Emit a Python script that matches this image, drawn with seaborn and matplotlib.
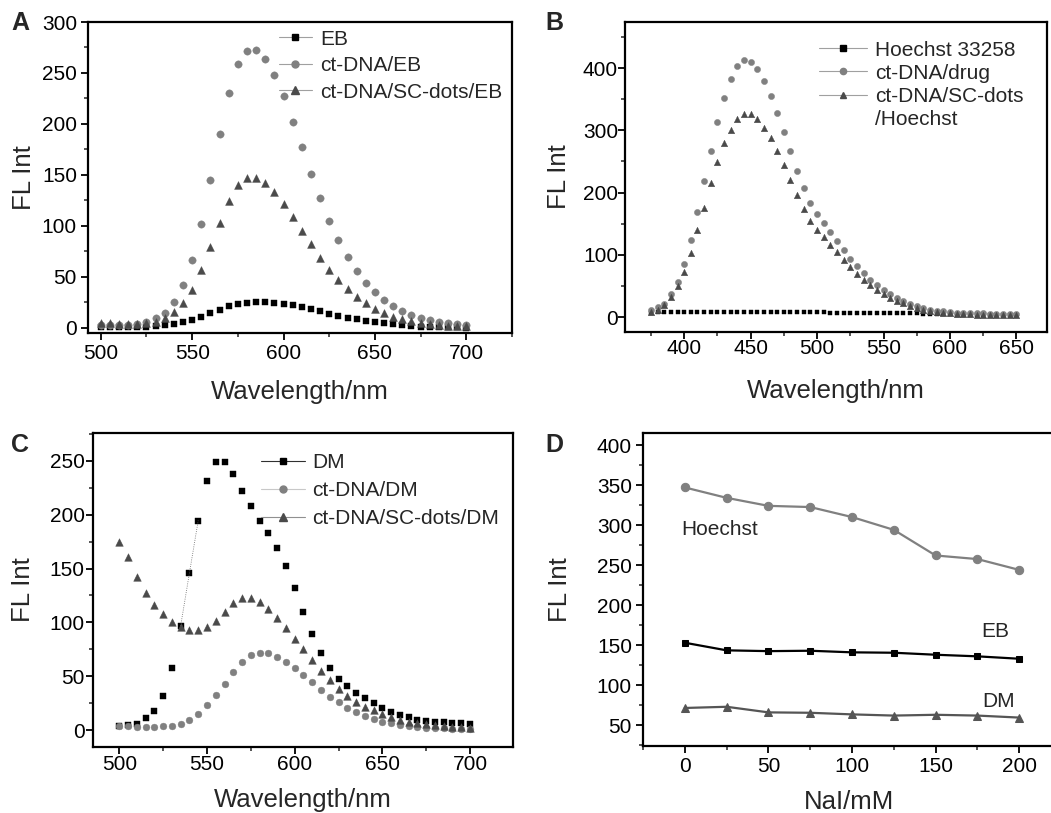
import numpy as np
import pandas as pd
import matplotlib
matplotlib.use('Agg')
import matplotlib.pyplot as plt
from matplotlib.lines import Line2D
from matplotlib.ticker import MultipleLocator
import seaborn as sns

# === DATA ===

# panel A: EB emission spectra
wl_a = np.arange(500, 705, 5)
eb_free = [1, 1, 0.5, 0.5, 0.5, 1, 1.5, 2.5, 4, 5.5,
           8, 11, 14.5, 18, 21, 23, 24, 25, 25, 24,
           23.5, 22, 20.5, 18.5, 16.5, 14, 12, 10, 8.5, 7,
           6, 4.5, 3.5, 2.5, 1.5, 1, 1, 0.5, 0.5, 0.5, 0.3]
eb_dna = [3, 3, 3, 3, 4, 6, 9.5, 15, 25, 42,
          67, 102, 145, 190, 230, 259, 272, 273, 264, 248,
          227, 202, 177, 151, 127, 105, 86, 70, 56, 44,
          35, 27, 21, 16.5, 13, 10, 7.5, 6, 5, 4, 3]
eb_dots = [5, 4.5, 4, 4, 4, 4.5, 6, 10, 16, 24.5,
           37.5, 57, 79, 103, 124, 140, 147, 147, 142, 133.5,
           122, 109, 95, 82, 69, 57, 46.5, 38, 30.5, 24.5,
           18.5, 14.5, 11, 8.5, 6.5, 5, 4, 3, 2, 2, 1.5]

# panel B: Hoechst emission spectra
wl_b = np.arange(375, 655, 5)
hoe_free = [6, 7.5, 7.5, 8, 8, 8, 8, 7.5, 7.5, 7.5,
            7.5, 7.5, 7.5, 7.5, 7.5, 7.5, 7.5, 8, 8, 8,
            8, 8, 8, 7.5, 7.5, 7.5, 7.5, 7, 7, 7,
            7, 7, 7, 7, 7, 7, 6.5, 6.5, 6, 6,
            6, 5.5, 5, 5, 4.5, 4.5, 4, 4, 4, 4,
            3.5, 3.5, 3.5, 3, 3, 3]
hoe_dna = [12, 15.5, 21, 37, 56, 86, 123, 169, 218, 267,
           313, 352, 383, 404, 413, 410, 399, 380, 355, 328,
           298, 266, 234.5, 207, 184, 165.5, 151, 136, 121.5, 107.5,
           93.5, 81.5, 70, 60, 51.5, 43.5, 36.5, 30.5, 25, 21,
           17, 14.5, 12, 10, 9, 8, 7, 7, 6.5, 6,
           6, 5.5, 5.5, 5, 5, 5]
hoe_dots = [8, 12, 20, 31.5, 49.5, 73, 103, 140, 176, 215,
            249, 279, 301, 318, 326, 326, 318, 304, 287, 267,
            244.5, 220, 195.5, 173, 155, 140, 128, 116, 104, 92,
            80, 69.5, 60, 52, 44, 37, 31, 26, 22.5, 18,
            15, 12, 10, 8.5, 7, 6, 5.5, 5, 4.5, 4,
            4, 3.5, 3.5, 3, 3, 3]

# panel C: DM emission spectra
wl_c = np.arange(500, 705, 5)
dm_free = [4, 5, 6, 11, 18, 32, 58, 97, 146, 194.5,
           231, 249, 249, 238, 222, 208, 194.5, 183, 169.5, 152,
           132, 110, 89.5, 72, 58, 48, 41, 35, 30, 25,
           21, 17, 14, 12, 10, 9, 8, 8, 7, 6.5, 6]
dm_dna = [4, 4, 3, 3, 3, 4, 4, 6, 10, 15.5,
          23, 32.5, 43, 54, 63, 70, 72, 71.5, 68, 63,
          58, 51, 44.5, 37, 31, 26, 21, 17, 13.5, 10.5,
          8, 6.5, 5, 4, 3, 2.5, 2, 2, 1.5, 1, 1]
dm_dots = [175, 161, 142.5, 127.5, 116, 108, 100.5, 96, 93, 93,
           96, 101.5, 110, 118, 123, 123, 119, 112.5, 104, 95,
           85, 75, 65, 55, 46.5, 38.5, 32, 26.5, 22, 18.5,
           15, 12, 10, 8, 7, 6, 5, 4, 3, 3, 2]

# panel D: NaI quenching
nai = [0, 25, 50, 75, 100, 125, 150, 175, 200]
q_hoechst = [347, 334, 324, 322.5, 310, 294, 262, 257.5, 244]
q_eb = [153, 143.5, 142.5, 143, 141, 140.5, 138, 136, 133]
q_dm = [71.5, 73, 66, 65.5, 63.5, 62, 63, 62, 59.5]

BLACK = '#000000'
GRAY = '#808080'
DARK = '#4a4a4a'
LEG_LINE = '#a0a0a0'

# === STYLE ===
sns.set_style('ticks')
plt.rcParams['font.family'] = ['Liberation Sans', 'DejaVu Sans']
plt.rcParams['axes.linewidth'] = 1.6
plt.rcParams['legend.numpoints'] = 1

W, H = 1051, 813
fig = plt.figure(figsize=(W / 100, H / 100), dpi=100)


def box(l, t, r, b):
    return [l / W, 1 - b / H, (r - l) / W, (b - t) / H]


def style_axis(ax, xlim, ylim, xmaj, ymaj, xmin, ymin, pad):
    ax.set_xlim(*xlim)
    ax.set_ylim(*ylim)
    ax.xaxis.set_major_locator(MultipleLocator(xmaj))
    ax.xaxis.set_minor_locator(MultipleLocator(xmin))
    ax.yaxis.set_major_locator(MultipleLocator(ymaj))
    ax.yaxis.set_minor_locator(MultipleLocator(ymin))
    ax.tick_params(which='major', direction='out', length=5, width=1.3,
                   labelsize=15, pad=pad, colors='black')
    ax.tick_params(which='minor', direction='out', length=3, width=1.1)
    for sp in ax.spines.values():
        sp.set_visible(True)
        sp.set_linewidth(1.6)
        sp.set_color('black')


def spectra(ax, x, series):
    for y, marker, color, size in series:
        sns.scatterplot(x=x, y=y, marker=marker, color=color, s=size,
                        edgecolor=color, linewidth=0.3, ax=ax, legend=False)


def handle(marker, color, line_color, ms):
    return Line2D([], [], color=line_color, lw=0.8, marker=marker,
                  markersize=ms, markerfacecolor=color, markeredgecolor=color)


# === PANEL A ===
ax_a = fig.add_axes(box(88, 22, 512, 333))
spectra(ax_a, wl_a, [(eb_free, 's', BLACK, 14),
                     (eb_dna, 'o', GRAY, 28),
                     (eb_dots, '^', DARK, 32)])
style_axis(ax_a, (493, 725), (-5, 300), 50, 50, 25, 25, 3)
ax_a.legend([handle('s', BLACK, LEG_LINE, 4.5), handle('o', GRAY, LEG_LINE, 5),
             handle('^', DARK, LEG_LINE, 5.5)],
            ['EB', 'ct-DNA/EB', 'ct-DNA/SC-dots/EB'],
            loc='upper left', bbox_to_anchor=(0.45, 0.975), frameon=False,
            fontsize=15, handlelength=1.6, handletextpad=0.4,
            labelspacing=0.36, borderpad=0, borderaxespad=0)

# === PANEL B ===
ax_b = fig.add_axes(box(625, 22, 1047, 332))
spectra(ax_b, wl_b, [(hoe_free, 's', BLACK, 10),
                     (hoe_dna, 'o', GRAY, 20),
                     (hoe_dots, '^', DARK, 22)])
style_axis(ax_b, (355.5, 673), (-24, 474), 50, 100, 25, 50, 0)
ax_b.legend([handle('s', BLACK, LEG_LINE, 4), handle('o', GRAY, LEG_LINE, 4.5),
             handle('^', DARK, LEG_LINE, 5), Line2D([], [], alpha=0)],
            ['Hoechst 33258', 'ct-DNA/drug', 'ct-DNA/SC-dots', '/Hoechst'],
            loc='upper left', bbox_to_anchor=(0.46, 0.94), frameon=False,
            fontsize=15, handlelength=2.3, handletextpad=0.4,
            labelspacing=0.2, borderpad=0, borderaxespad=0)

# === PANEL C ===
ax_c = fig.add_axes(box(93, 433, 513, 747))
spectra(ax_c, wl_c, [(dm_free, 's', BLACK, 16),
                     (dm_dna, 'o', GRAY, 24),
                     (dm_dots, '^', DARK, 30)])
# faint dotted trace left between two DM points
sns.lineplot(x=wl_c[7:10], y=dm_free[7:10], color='#666666', lw=0.6,
             linestyle=':', ax=ax_c, legend=False)
style_axis(ax_c, (485, 724.5), (-15.5, 275.7), 50, 50, 25, 25, 1)
ax_c.legend([handle('s', BLACK, '#303030', 4.5), handle('o', GRAY, '#c8c8c8', 5),
             handle('^', DARK, '#909090', 5.5)],
            ['DM', 'ct-DNA/DM', 'ct-DNA/SC-dots/DM'],
            loc='upper left', bbox_to_anchor=(0.40, 0.935), frameon=False,
            fontsize=15, handlelength=2.1, handletextpad=0.35,
            labelspacing=0.42, borderpad=0, borderaxespad=0)

# === PANEL D ===
ax_d = fig.add_axes(box(643, 433, 1056, 746))
df_d = pd.DataFrame({'NaI': nai, 'Hoechst': q_hoechst, 'EB': q_eb, 'DM': q_dm})
for col, marker, color, ms in [('Hoechst', 'o', GRAY, 6),
                               ('EB', 's', BLACK, 5),
                               ('DM', '^', '#555555', 6)]:
    sns.lineplot(data=df_d, x='NaI', y=col, marker=marker, color=color,
                 markersize=ms, markeredgecolor=color, lw=1.6, ax=ax_d)
style_axis(ax_d, (-25, 222), (24, 415), 50, 50, 25, 25, 3)
ax_d.text(-2, 294, 'Hoechst', fontsize=15, va='center', ha='left')
ax_d.text(185.5, 166.5, 'EB', fontsize=15, va='center', ha='center')
ax_d.text(187.5, 79, 'DM', fontsize=15, va='center', ha='center')

# === LABELS ===
for ax, xl, xy, yy in [(ax_a, 'Wavelength/nm', -0.15, -0.123),
                       (ax_b, 'Wavelength/nm', -0.15, -0.128),
                       (ax_c, 'Wavelength/nm', -0.13, -0.137),
                       (ax_d, 'NaI/mM', -0.14, -0.171)]:
    ax.set_xlabel(xl, fontsize=18.5)
    ax.set_ylabel('FL Int', fontsize=18.5)
    ax.xaxis.set_label_coords(0.5, xy)
    ax.yaxis.set_label_coords(yy, 0.5)

for letter, x, y in [('A', 20, 23), ('B', 554, 23), ('C', 20, 445), ('D', 554, 445)]:
    fig.text(x / W, 1 - y / H, letter, fontsize=18, fontweight='bold',
             ha='center', va='center')

plt.savefig('out.png', dpi=100)
